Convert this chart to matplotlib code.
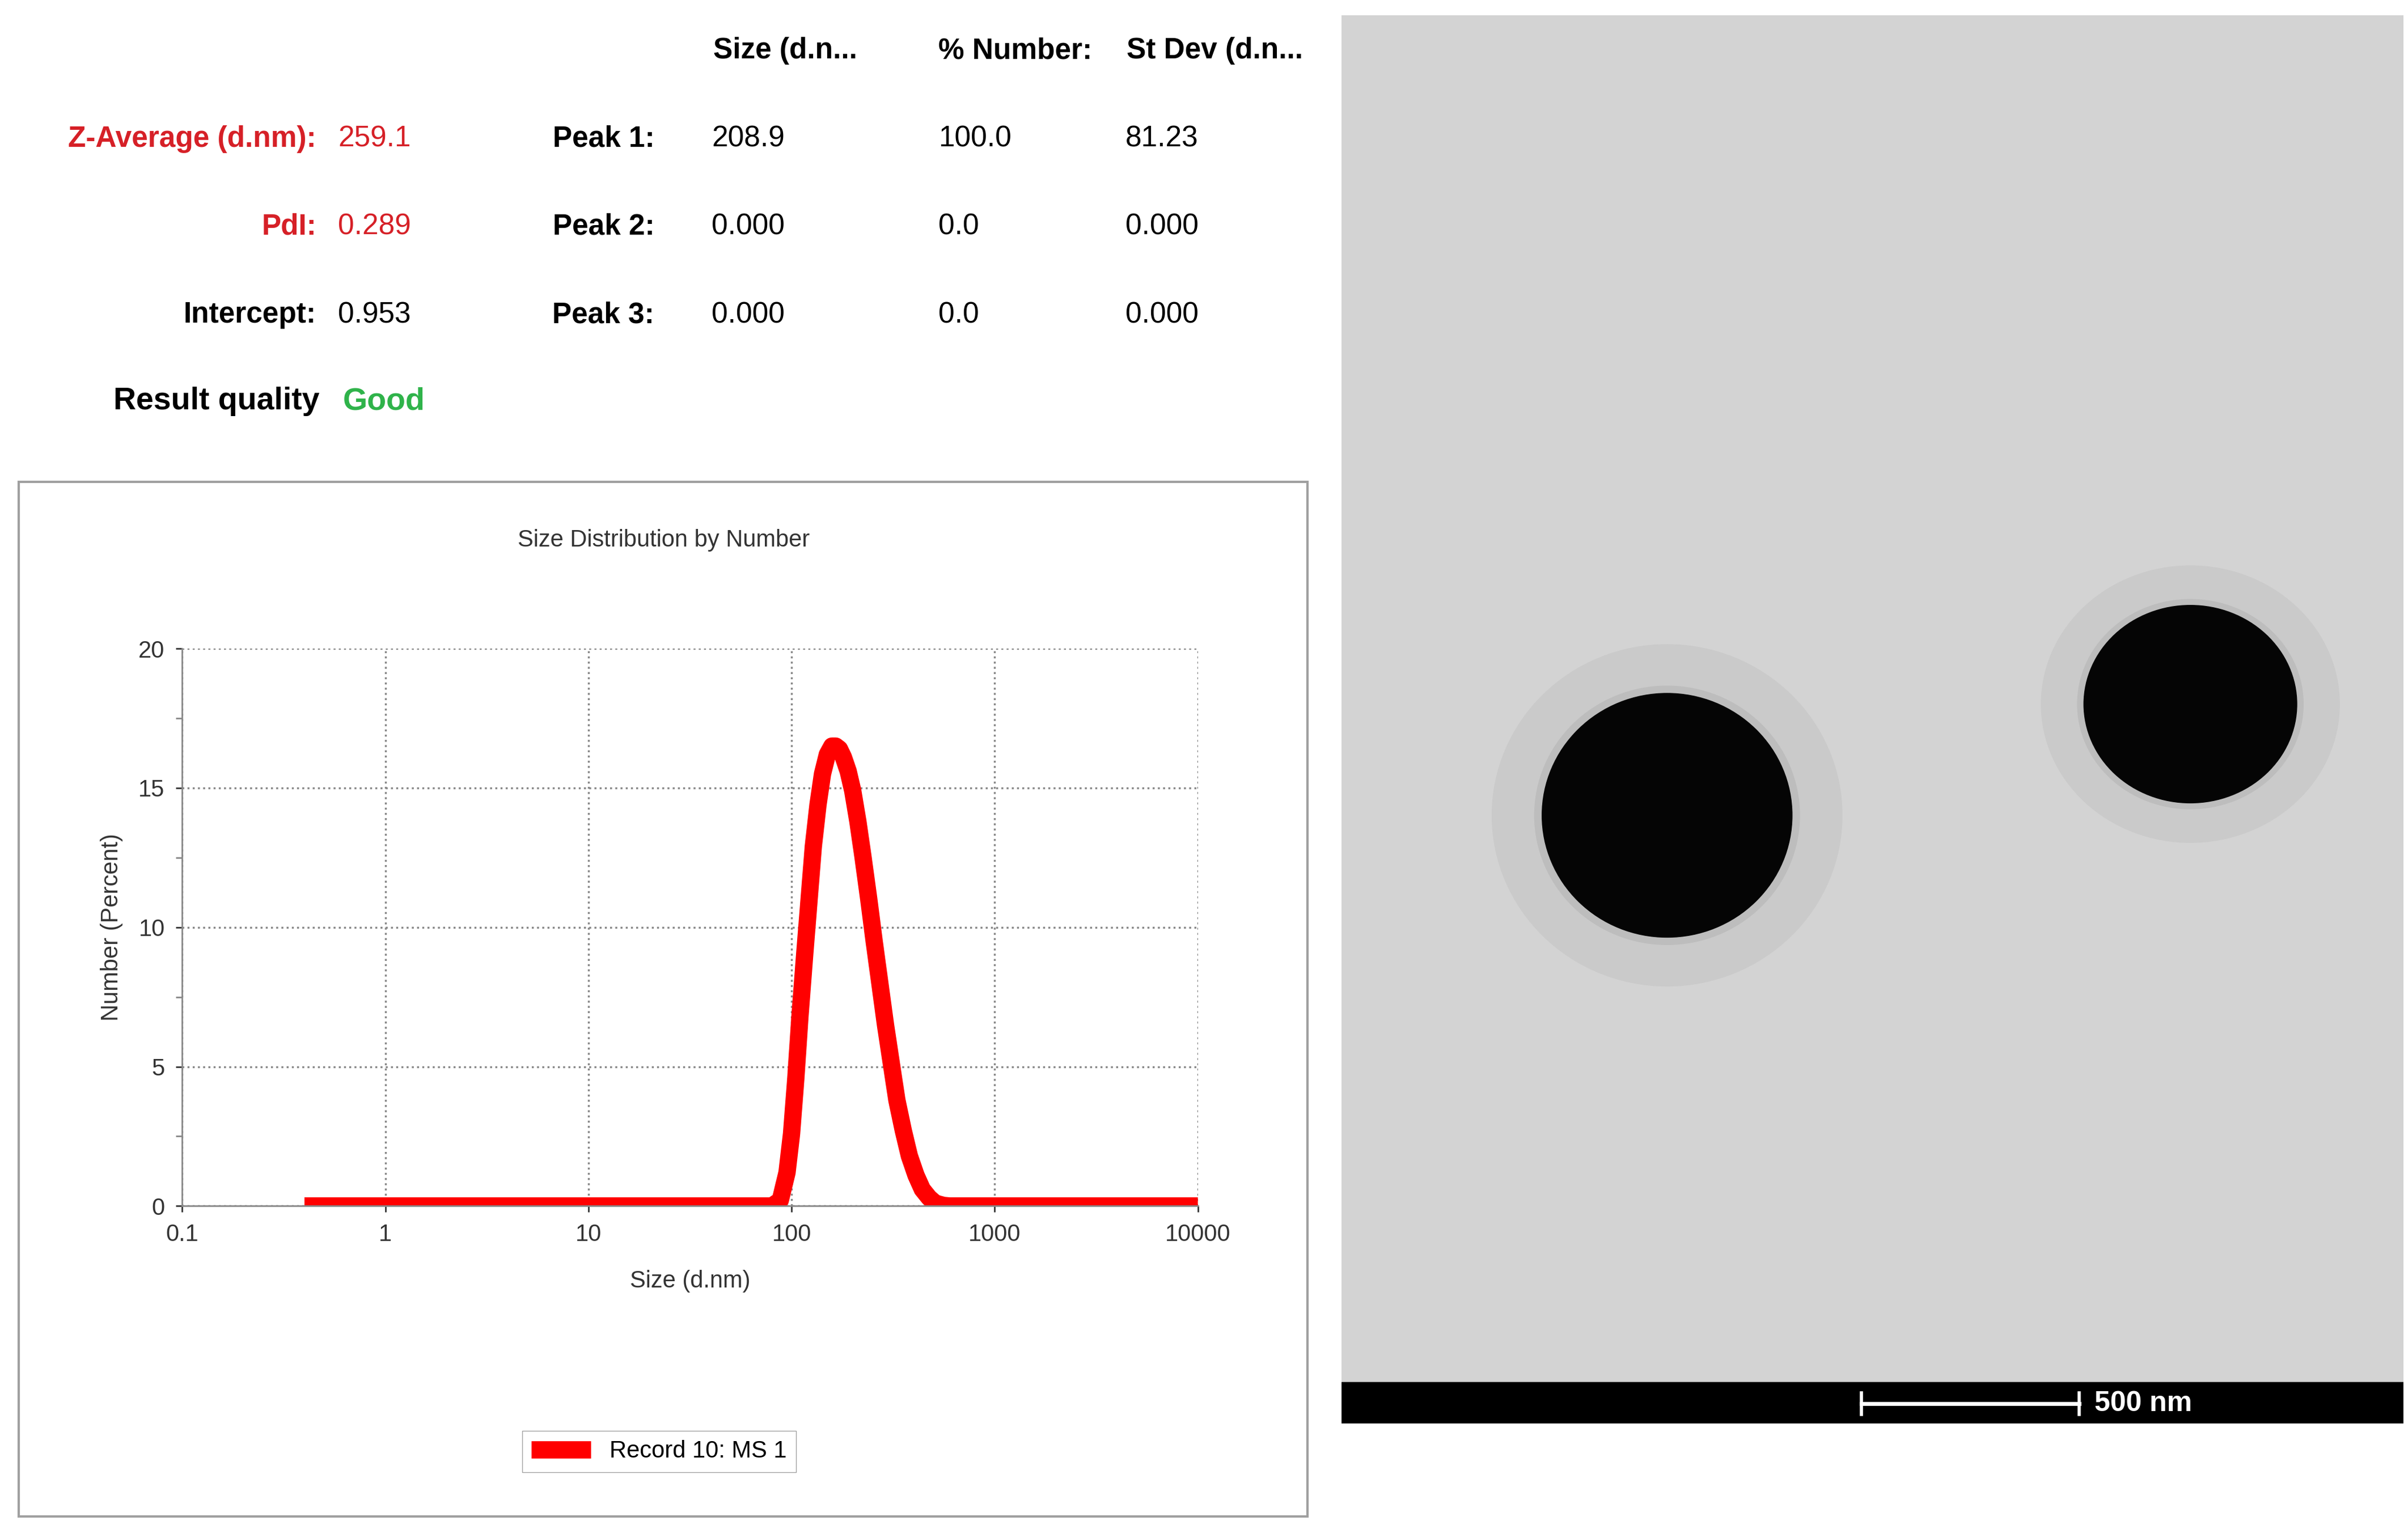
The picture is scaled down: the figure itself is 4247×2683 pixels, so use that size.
import matplotlib
matplotlib.use("Agg")
import matplotlib.pyplot as plt
from matplotlib.patches import Rectangle, Ellipse
import numpy as np

plt.rcParams['font.family'] = ['Liberation Sans Narrow', 'Liberation Sans', 'DejaVu Sans']

sizes = [0.4, 1, 10, 80, 88, 95, 100, 105, 110, 116, 122, 128, 135, 142, 150, 158, 165, 172, 180, 190,
         200, 212, 225, 240, 255, 272, 290, 310, 330, 355, 380, 410, 440, 475, 510, 560, 600, 1000, 10000]
numbers = [0, 0, 0, 0, 0.2, 1.2, 2.6, 4.6, 6.8, 9.0, 11.0, 12.9, 14.4, 15.5, 16.2, 16.5, 16.5, 16.4, 16.1, 15.6,
           14.9, 13.8, 12.5, 11.0, 9.5, 8.0, 6.5, 5.1, 3.8, 2.7, 1.8, 1.1, 0.6, 0.3, 0.1, 0.02, 0, 0, 0]
xticks = [0.1, 1, 10, 100, 1000, 10000]
xticklabels = ["0.1", "1", "10", "100", "1000", "10000"]
yticks = [0, 5, 10, 15, 20]

hdr = ["Size (d.n...", "% Number:", "St Dev (d.n..."]
peak_rows = [["Peak 1:", "208.9", "100.0", "81.23"],
             ["Peak 2:", "0.000", "0.0", "0.000"],
             ["Peak 3:", "0.000", "0.0", "0.000"]]
left_rows = [("Z-Average (d.nm):", "259.1", "#d62027"),
             ("PdI:", "0.289", "#d62027"),
             ("Intercept:", "0.953", "black")]

W, H = 1560, 985
fig = plt.figure(figsize=(42.47, 26.83), dpi=100)
def fx(x): return x / W
def fy(y): return 1 - y / H

fs = 37
for t, x in zip(hdr, [462, 608, 730]):
    fig.text(fx(x), fy(33), t, fontsize=fs, fontweight='bold', va='center', ha='left')
for i, row in enumerate(peak_rows):
    y = 90 + i * 57
    fig.text(fx(424), fy(y), row[0], fontsize=fs, fontweight='bold', va='center', ha='right')
    for t, x in zip(row[1:], [461, 608, 729]):
        fig.text(fx(x), fy(y), t, fontsize=fs, va='center', ha='left')
for i, (lab, val, c) in enumerate(left_rows):
    y = 90 + i * 57
    fig.text(fx(205), fy(y), lab, fontsize=fs, fontweight='bold', va='center', ha='right', color=c)
    fig.text(fx(219), fy(y), val, fontsize=fs, va='center', ha='left', color=c)
fig.text(fx(207), fy(260), "Result quality", fontsize=40, fontweight='bold', va='center', ha='right')
fig.text(fx(222), fy(260), "Good", fontsize=40, fontweight='bold', va='center', ha='left', color='#2fb34a')

fig.patches.append(Rectangle((fx(12), fy(982)), fx(847) - fx(12), fy(312) - fy(982),
                             transform=fig.transFigure, fill=False, ec='#a0a0a0', lw=3))
fig.text(fx(430), fy(350), "Size Distribution by Number", fontsize=30, ha='center', va='center', color='#333333')

ax = fig.add_axes([fx(118), fy(781), fx(776) - fx(118), fy(420) - fy(781)])
ax.plot(sizes, numbers, color='red', lw=22, solid_capstyle='butt', solid_joinstyle='round', label="Record 10: MS 1")
ax.set_xscale('log')
ax.set_xlim(0.1, 10000)
ax.set_ylim(0, 20)
ax.set_xticks(xticks)
ax.set_xticklabels(xticklabels)
ax.set_yticks(yticks)
ax.set_yticks([2.5, 7.5, 12.5, 17.5], minor=True)
ax.xaxis.set_minor_locator(matplotlib.ticker.NullLocator())
ax.grid(True, which='major', ls=':', color='#888888', lw=2.5)
for s in ['top', 'right']:
    ax.spines[s].set_visible(False)
for s in ['left', 'bottom']:
    ax.spines[s].set_color('#888888')
    ax.spines[s].set_linewidth(2)
ax.tick_params(labelsize=30, colors='#333333', length=8, width=2, pad=14)
ax.tick_params(which='minor', length=8, width=2, colors='#888888')
ax.set_xlabel("Size (d.nm)", fontsize=30, color='#333333', labelpad=30)
ax.set_ylabel("Number (Percent)", fontsize=30, color='#333333', labelpad=20)
leg = fig.legend(*ax.get_legend_handles_labels(), loc='center', bbox_to_anchor=(fx(427), fy(940)),
                 fontsize=30, frameon=True, fancybox=False, edgecolor='#888888', handlelength=2.5)

im = fig.add_axes([fx(869), fy(922), fx(1557) - fx(869), fy(10) - fy(922)])
im.set_xlim(0, 688); im.set_ylim(912, 0); im.axis('off')
im.add_patch(Rectangle((0, 0), 688, 885, color='#d3d3d3'))
im.add_patch(Rectangle((0, 885), 688, 27, color='black'))
for cx, cy, w, h in [(211, 518, 162, 158), (550, 446, 138, 128)]:
    im.add_patch(Ellipse((cx, cy), w * 1.4, h * 1.4, color='#cacaca'))
    im.add_patch(Ellipse((cx, cy), w * 1.06, h * 1.06, color='#bdbdbd'))
    im.add_patch(Ellipse((cx, cy), w, h, color='#050505'))
im.plot([337, 478], [899, 899], color='white', lw=5)
im.plot([337, 337], [892, 906], color='white', lw=4)
im.plot([478, 478], [892, 906], color='white', lw=4)
im.text(488, 899, "500 nm", color='white', fontsize=36, fontweight='bold', va='center', ha='left')

fig.savefig("out.png", dpi=100, facecolor='white')
